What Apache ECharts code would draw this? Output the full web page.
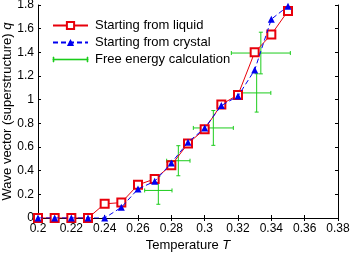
<!DOCTYPE html>
<html>
<head>
<meta charset="utf-8">
<script src="https://cdn.jsdelivr.net/npm/echarts@6/dist/echarts.min.js"></script>
<style>html,body{margin:0;padding:0;background:#fff}#c{width:353px;height:254px}</style>
</head>
<body>
<div id="c"></div>
<script>
var temps = [0.20,0.21,0.22,0.23,0.24,0.25,0.26,0.27,0.28,0.29,0.30,0.31,0.32,0.33,0.34,0.35];
var liquidQ = [0,0,0,0,0.12,0.13,0.28,0.33,0.445,0.63,0.75,0.96,1.04,1.40,1.55,1.75];
var crystalQ = [0,0,0,0,0,0.09,0.245,0.31,0.465,0.64,0.76,0.95,1.03,1.25,1.68,1.79];
// free energy calculation: centre T, centre q, T error, q error
var feT = [0.2722,0.2842,0.3052,0.3312,0.3337];
var feQ = [0.233,0.484,0.761,1.057,1.394];
var feTerr = [0.0082,0.0070,0.0120,0.0085,0.0177];
var feQerr = [0.117,0.127,0.147,0.162,0.176];
var xTicks = [0.2,0.22,0.24,0.26,0.28,0.3,0.32,0.34,0.36,0.38];
var yTicks = [0,0.2,0.4,0.6,0.8,1,1.2,1.4,1.6,1.8];

var FONT = "'Liberation Sans', Arial, Helvetica, sans-serif";
var RED = '#e8000b', BLUE = '#0000f0', GREEN = '#1ccc1c';

function pairs(xs, ys){ return xs.map(function(x,i){ return [x, ys[i]]; }); }
var feData = feT.map(function(t,i){ return [t, feQ[i], feTerr[i], feQerr[i]]; });

var chart = echarts.init(document.getElementById('c'), null, {renderer:'canvas'});
var tickStyle = {show:true, inside:true, length:3, lineStyle:{color:'#000', width:1}};
var lineStyle = {show:true, lineStyle:{color:'#000', width:1}};
var option = {
  animation:false,
  backgroundColor:'#fff',
  textStyle:{fontFamily:FONT},
  grid:{left:38, right:15, top:5, bottom:36, containLabel:false, outerBoundsMode:'none'},
  legend:{
    left:52, top:19, orient:'vertical', itemWidth:35, itemHeight:9, itemGap:4, padding:0,
    textStyle:{fontSize:13, lineHeight:13, color:'#000', fontFamily:FONT, padding:[0,0,0,2]},
    data:[
      {name:'Starting from liquid'},
      {name:'Starting from crystal'},
      {name:'Free energy calculation', icon:'path://M0,2H35V3H0Z M0,0H1V5H0Z M34,0H35V5H34Z',
        itemStyle:{color:GREEN, borderColor:GREEN, borderWidth:0.6, opacity:1}}
    ]
  },
  xAxis:[{
    type:'value', min:0.2, max:0.38, interval:0.02, position:'bottom',
    axisLine:lineStyle, axisTick:tickStyle, splitLine:{show:false},
    axisLabel:{fontSize:12, color:'#000', margin:5, fontFamily:FONT,
      formatter:function(v){ return String(+v.toFixed(2)); }},
    name:'Temperature {i|T}', nameLocation:'middle', nameGap:21, nameMoveOverlap:false,
    nameTextStyle:{fontSize:13, color:'#000', fontFamily:FONT,
      rich:{i:{fontStyle:'italic', fontSize:13, color:'#000', fontFamily:FONT}}}
  },{
    type:'value', min:0.2, max:0.38, interval:0.02, position:'top',
    axisLine:lineStyle, axisTick:tickStyle, splitLine:{show:false}, axisLabel:{show:false}
  }],
  yAxis:[{
    type:'value', min:0, max:1.8, interval:0.2, position:'left',
    axisLine:lineStyle, axisTick:tickStyle, splitLine:{show:false},
    axisLabel:{fontSize:12, color:'#000', margin:4, fontFamily:FONT,
      formatter:function(v){ return String(+v.toFixed(1)); }},
    name:'Wave vector (superstructure) {i|q}', nameLocation:'middle', nameGap:24, nameRotate:90,
    nameMoveOverlap:false,
    nameTextStyle:{fontSize:13, color:'#000', fontFamily:FONT,
      rich:{i:{fontStyle:'italic', fontSize:13, color:'#000', fontFamily:FONT}}}
  },{
    type:'value', min:0, max:1.8, interval:0.2, position:'right',
    axisLine:lineStyle, axisTick:tickStyle, splitLine:{show:false}, axisLabel:{show:false}
  }],
  series:[
    {
      name:'Starting from liquid', type:'line', data:pairs(temps, liquidQ),
      symbol:'emptyRect', symbolSize:8, color:RED,
      lineStyle:{color:RED, width:1}, itemStyle:{color:RED, borderColor:RED, borderWidth:1}, z:3
    },
    {
      name:'Starting from crystal', type:'line', data:pairs(temps, crystalQ),
      symbol:'triangle', symbolSize:7, color:BLUE,
      lineStyle:{color:BLUE, width:1, type:[5,3]}, itemStyle:{color:BLUE}, z:4
    },
    {
      name:'Free energy calculation', type:'custom', data:feData, color:GREEN,
      itemStyle:{color:GREEN}, encode:{x:0, y:1}, z:2,
      renderItem:function(params, api){
        var x = api.value(0), y = api.value(1), dx = api.value(2), dy = api.value(3);
        var l = api.coord([x-dx, y]), r = api.coord([x+dx, y]);
        var t = api.coord([x, y+dy]), b = api.coord([x, y-dy]);
        var c = 2;
        var st = {stroke:GREEN, lineWidth:1};
        function ln(x1,y1,x2,y2){ return {type:'line', shape:{x1:x1,y1:y1,x2:x2,y2:y2}, style:st}; }
        return {type:'group', children:[
          ln(l[0], l[1], r[0], r[1]),
          ln(t[0], t[1], b[0], b[1]),
          ln(l[0], l[1]-c, l[0], l[1]+c),
          ln(r[0], r[1]-c, r[0], r[1]+c),
          ln(t[0]-c, t[1], t[0]+c, t[1]),
          ln(b[0]-c, b[1], b[0]+c, b[1])
        ]};
      }
    }
  ]
};
chart.setOption(option);
</script>
</body>
</html>
